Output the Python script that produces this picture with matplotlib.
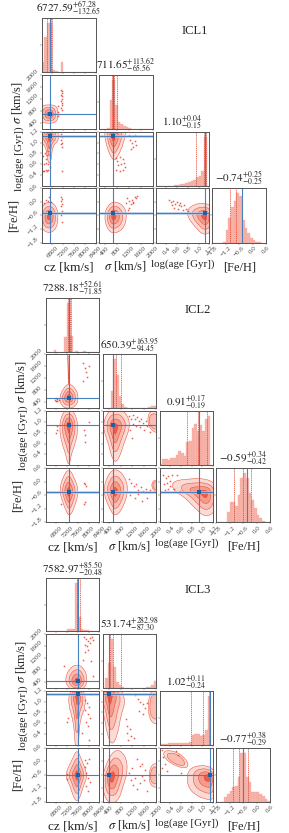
import matplotlib
matplotlib.use('Agg')
import matplotlib.pyplot as plt
from matplotlib.patches import PathPatch
from matplotlib.path import Path

plt.rcParams['font.family'] = ['Liberation Serif', 'DejaVu Serif']
plt.rcParams['mathtext.fontset'] = 'stix'

W, H = 289, 833
RED = '#e8402e'
BLUE = '#4a7fbf'
PALE_BLUE = '#b3cbe8'
LEVEL_COLORS = ['#fbd9d3', '#f9bcb0', '#f59a8a', '#ec5a45']
LEVEL_SCALES = [1, 0.72, 0.46, 0.2]

labels_x = ['cz [km/s]', r'$\sigma$ [km/s]', 'log(age [Gyr])', '[Fe/H]']
labels_y = [r'$\sigma$ [km/s]', 'log(age [Gyr])', '[Fe/H]']
limits = [(6400, 8400), (200, 2000), (0.2, 1.2), (-1.8, 0.6)]
ticks = [[6800, 7200, 7600, 8000, 8400], [400, 800, 1200, 1600, 2000],
         [0.4, 0.6, 0.8, 1.0, 1.2], [-1.8, -1.2, -0.6, 0.0, 0.6]]
tick_labels = [['6800', '7200', '7600', '8000', '8400'], ['400', '800', '1200', '1600', '2000'],
               ['0.4', '0.6', '0.8', '1.0', '1.2'], ['\u22121.8', '\u22121.2', '\u22120.6', '0.0', '0.6']]

# px layout of the panels
icl1_cols = [(41.7, 95.7), (98.7, 152.7), (155.7, 209.3), (212.3, 266)]
icl1_rows = [(18.3, 71.7), (75.3, 129), (131.7, 186), (188.3, 242.7)]
icl2_cols = [(45.7, 99.3), (102.7, 156.3), (159.7, 213), (216.3, 270)]
icl2_rows = [(297.7, 351.7), (354.3, 408.3), (411.3, 465), (468.3, 522.3)]
icl3_cols = icl2_cols
icl3_rows = [(577.7, 631.3), (634, 688), (691, 744.7), (748, 801.7)]

# truth values (blue lines)
icl1_truth = [6696, 689, 1.125, -0.48]
icl2_truth = [7257, 558, 0.944, -0.45]
icl3_truth = [7590, 424, 1.15, -0.62]

# which blue lines have a pale band round them
icl1_pale_rows = [2, 3]
icl2_pale_rows = [3]
icl3_pale_rows = [2]

# median, plus, minus from the titles
icl1_stats = [(6727.59, 67.28, 132.65), (711.65, 113.62, 65.56), (1.10, 0.04, 0.15), (-0.74, 0.25, 0.25)]
icl2_stats = [(7288.18, 52.61, 71.85), (650.39, 163.95, 94.45), (0.91, 0.17, 0.19), (-0.59, 0.34, 0.42)]
icl3_stats = [(7582.97, 85.50, 20.48), (531.74, 282.98, 87.30), (1.02, 0.11, 0.24), (-0.77, 0.38, 0.29)]

# histograms, 20 bins across each range, relative to the peak
icl1_cz_hist = [.2, .72, 1, 1, .03, .02, 0, .2, 0, 0, 0, 0, 0, 0, 0, 0, 0, 0, 0, 0]
icl1_sigma_hist = [0, 0, 0, .02, .6, 1, .5, .15, .1, .06, .04, .02, .01, .01, .01, 0, 0, 0, 0, 0]
icl1_age_hist = [0, 0, 0, 0, 0, .01, .01, .02, .03, .04, .05, .07, .08, .1, .13, .18, .2, .3, 1, 0]
icl1_feh_hist = [0, 0, 0, 0, .02, .25, .5, .72, .85, 1, .95, .45, .3, .2, .1, .05, .02, .01, 0, 0]
icl2_cz_hist = [0, 0, 0, .03, 0, 0, 0, .3, 1, .32, 0, .01, 0, 0, .01, 0, 0, 0, 0, 0]
icl2_sigma_hist = [0, 0, 0, .35, 1, .68, .25, .08, .02, .01, .01, 0, 0, .01, .01, .01, .01, .02, .04, .05]
icl2_age_hist = [.02, .12, .13, .1, .15, .15, .2, .28, .25, .18, .48, .5, .75, .85, .7, .82, .7, .95, 1, 0]
icl2_feh_hist = [0, 0, 0, 0, .2, .42, .42, .33, .55, .9, 1, .9, .6, .45, .3, .15, .08, .03, .01, 0]
icl3_cz_hist = [0, 0, 0, 0, 0, 0, 0, 0, .04, .04, .05, 1, .3, .04, .03, .03, 0, 0, 0, 0]
icl3_sigma_hist = [0, .2, .5, 1, .42, .12, .06, .02, .01, 0, 0, 0, 0, .01, .01, .01, .02, .03, .06, .14]
icl3_age_hist = [.01, .02, .02, .03, .03, .03, .03, .03, .03, .03, .03, .05, .2, .22, .22, .17, .2, .3, 1, 0]
icl3_feh_hist = [0, 0, 0, .1, .15, .22, .3, .33, .5, 1, 1, .5, .4, .2, .2, .2, .15, .12, .05, .01]

# density contours: peak and outer outline in data units
icl1_sigma_cz_peak = (6672, 703)
icl1_sigma_cz = [(6680, 1020), (6960, 980), (7020, 700), (6960, 430), (6680, 380), (6390, 430), (6330, 700), (6390, 980)]
icl1_age_cz_peak = (6672, 1.11)
icl1_age_cz = [(6400, 1.25), (7000, 1.25), (7040, 1.03), (6800, .95), (6730, .58), (6600, .68), (6560, .92), (6380, 1.0)]
icl1_feh_cz_peak = (6672, -0.65)
icl1_feh_cz = [(6680, 0.05), (6960, -0.2), (7020, -0.7), (6940, -1.2), (6680, -1.4), (6390, -1.2), (6330, -0.7), (6390, -0.2)]
icl1_age_sigma_peak = (689, 1.11)
icl1_age_sigma = [(380, 1.26), (1110, 1.26), (1060, 1.02), (790, .68), (640, .68), (420, 1.0)]
icl1_feh_sigma_peak = (689, -0.65)
icl1_feh_sigma = [(720, 0.05), (1060, -0.18), (1150, -0.7), (1010, -1.22), (680, -1.42), (470, -1.18), (380, -0.6), (490, -0.18)]
icl1_feh_age_peak = (1.12, -0.65)
icl1_feh_age = [(.78, -0.28), (1.05, 0.0), (1.28, -0.2), (1.28, -1.25), (1.1, -1.5), (.94, -1.12), (.8, -.7)]

icl2_sigma_cz_peak = (7257, 566)
icl2_sigma_cz = [(7260, 1040), (7520, 870), (7640, 550), (7520, 250), (7200, 180), (6980, 290), (6900, 560), (7060, 870)]
icl2_age_cz_peak = (7257, 0.945)
icl2_age_cz = [(7260, 1.26), (7510, 1.16), (7620, .9), (7510, .6), (7350, .4), (7300, .22), (7220, .22), (7150, .4), (7000, .6), (6900, .9), (7010, 1.16)]
icl2_feh_cz_peak = (7257, -0.44)
icl2_feh_cz = [(7260, .6), (7460, .22), (7640, -.4), (7490, -1.1), (7280, -1.6), (7090, -1.1), (6900, -.4), (7040, .22)]
icl2_age_sigma_peak = (614, 0.9)
icl2_age_sigma = [(600, 1.26), (960, 1.2), (1150, .95), (910, .6), (720, .27), (540, .27), (390, .6), (200, .9), (320, 1.16)]
icl2_feh_sigma_peak = (614, -0.44)
icl2_feh_sigma = [(620, .6), (910, .32), (1070, -.3), (910, -1.1), (620, -1.6), (390, -1.1), (210, -.4), (370, .32)]
icl2_feh_age_peak = (1.05, -0.51)
icl2_feh_age = [(.42, .02), (.75, .14), (1.1, .14), (1.3, -.2), (1.27, -1.3), (1.05, -1.6), (.84, -1.12), (.64, -.62), (.46, -.42)]

icl3_sigma_cz_peak = (7567, 422)
icl3_sigma_cz = [(7570, 1000), (7830, 860), (7970, 500), (7860, 190), (7570, 90), (7240, 190), (7110, 500), (7290, 860)]
icl3_age_cz_peak = (7567, 1.14)
icl3_age_cz = [(7600, 1.27), (7860, 1.2), (7890, .9), (7700, .7), (7640, .4), (7620, .15), (7500, .15), (7480, .4), (7400, .7), (7240, .95), (7290, 1.2)]
icl3_feh_cz_peak = (7567, -0.62)
icl3_feh_cz = [(7570, .55), (7730, .1), (7970, -.6), (7810, -1.1), (7640, -1.75), (7480, -1.75), (7310, -1.1), (7110, -.6), (7390, .1)]
icl3_age_sigma_peak = (424, 1.13)
icl3_age_sigma = [(300, 1.27), (810, 1.27), (970, 1.0), (810, .75), (710, .4), (520, .17), (340, .4), (270, .7), (130, .9), (140, 1.2)]
icl3_feh_sigma_peak = (502, -0.7)
icl3_feh_sigma = [(600, .6), (960, .32), (1050, -.4), (910, -1.0), (710, -1.85), (340, -1.85), (170, -1.1), (240, -.3)]
icl3_feh_age_peak = (1.11, -0.7)
icl3_feh_age = [(.74, -.18), (1.28, -.2), (1.28, -1.75), (.95, -1.65), (.7, -1.12)]

# detached lobes, only lighter levels
icl2_sigma_cz_lobe = [(7210, 2050), (7310, 2050), (7280, 1800), (7270, 1000), (7240, 1000), (7230, 1800)]
icl2_age_sigma_lobe = [(1750, 1.2), (2100, 1.22), (2100, .78), (1810, .85), (1700, 1.0)]
icl2_feh_sigma_lobe = [(1850, 0.05), (2100, .1), (2100, -.5), (1850, -.35)]
icl3_age_sigma_lobe = [(1800, 1.22), (2120, 1.22), (2120, .56), (1800, .62), (1710, .9)]
icl3_feh_sigma_lobe = [(1850, -.1), (2100, -.1), (2100, -1.2), (1800, -1.1), (1740, -.6)]
icl3_feh_age_lobe = [(.27, .52), (.55, .42), (.74, -.03), (.72, -.32), (.5, -.22), (.28, .14)]

# stray samples outside the contours
icl1_sigma_cz_dots = [(7110, 1510), (7140, 1470), (7170, 1420), (7110, 1350), (7170, 1300), (7140, 1220), (7110, 1150), (7170, 1080), (7140, 1000), (7110, 920), (7170, 850), (7000, 980), (7020, 760), (6990, 650)]
icl1_age_cz_dots = [(6450, .48), (6500, .48), (6560, .5), (6600, .47), (6650, .5), (6480, .6), (6550, .62), (6620, .6), (6700, .55), (6460, .75), (6520, .8), (6600, .78), (6650, .85), (6560, .7), (7130, 1.15), (7170, 1.1), (7130, 1.05), (7170, 1.0), (7130, .97), (7170, .92), (7150, .48)]
icl1_feh_cz_dots = [(7120, .22), (7160, .12), (7130, .02), (7170, -.08), (7120, -.2), (7160, -.4), (7130, -.6), (7170, -.9), (6560, .08), (6620, .02), (6680, .2), (6740, .0), (6490, -.05)]
icl1_age_sigma_dots = [(1200, 1.14), (1300, 1.13), (1420, 1.14), (1240, 1.05), (1320, 1.0), (1400, 1.02), (1330, .92), (1260, .88), (1450, .95), (760, .72), (820, .66), (900, .74), (1000, .7), (850, .58), (930, .6), (1050, .62), (780, .5), (900, .47), (1000, .5), (1080, .55)]
icl1_feh_sigma_dots = [(1140, .15), (1200, .05), (1260, -.1), (1300, .1), (1350, .0), (1400, .2), (1450, .18), (1480, .25), (1220, -.25), (1160, -.35), (1330, -.05), (1100, -.05)]
icl1_feh_age_dots = [(.44, .08), (.48, -.02), (.52, .05), (.56, -.1), (.6, -.02), (.64, -.15), (.68, -.2), (.72, -.12), (.55, -.25), (.62, -.32), (.7, -.36), (.76, -.3), (.8, -.4), (.84, -.5), (.5, -.12), (.66, -.05)]

icl2_sigma_cz_dots = [(6760, 480), (6800, 460), (6840, 500), (6880, 470), (6780, 530), (6820, 430), (7800, 1700), (7850, 1550), (7900, 1400), (7780, 1100), (7950, 1260), (8020, 1600)]
icl2_age_cz_dots = [(6810, .92), (6830, .86), (6800, .8), (7830, .85), (7880, .75), (7850, .62), (8000, 1.0)]
icl2_feh_cz_dots = [(7860, -.1), (7900, -.2), (7820, -.05), (7830, -1.0), (7880, -.9), (6980, -1.0)]
icl2_age_sigma_dots = [(1070, 1.12), (1150, 1.05), (1210, 1.13), (1280, 1.06), (1350, 1.1), (1420, 1.02), (1500, 1.06), (1560, .98), (1640, 1.02), (1700, .92), (1220, .96), (1330, .92), (1460, .9), (1600, .85), (1100, .85), (1800, .82), (1180, .7)]
icl2_feh_sigma_dots = [(1070, .14), (1150, -.05), (1240, -.2), (1330, -.1), (1400, -.35), (1480, -.25), (1560, -.4), (1640, -.3), (1720, -.45), (1790, -.35), (1120, -.6), (1270, -.7), (1400, -.55), (1520, -.85), (1680, -.7)]
icl2_feh_age_dots = [(.27, .3), (.31, .15), (.35, .25), (.39, .05), (.28, -.1), (.34, -.05), (.4, -.2), (.44, .3), (.47, -.3), (.52, .32), (.58, -.4), (.3, -.35), (.36, -.3)]

icl3_sigma_cz_dots = [(7830, 1900), (7900, 1850), (7960, 1780), (8040, 1880), (8120, 1900), (7860, 1650), (7950, 1600), (8060, 1700), (8180, 1800), (7880, 1400), (7980, 1470), (7790, 1150), (7100, 950), (8080, 1100), (8180, 600)]
icl3_age_cz_dots = [(7870, 1.04), (7940, .98), (8010, .9), (7880, .85), (7960, .78), (8040, .7), (7900, .62), (7990, .55), (7180, .62), (7220, .7), (8000, .28), (8100, 1.14), (7760, .42)]
icl3_feh_cz_dots = [(7870, -.25), (7950, -.05), (8030, .1), (7890, -.5), (7970, -.75), (8060, -.9), (7900, -1.1), (7980, -1.3), (7180, -.55), (7210, -.8), (7880, .05)]
icl3_age_sigma_dots = [(1280, 1.12), (1380, 1.06), (1460, 1.0), (1550, .96), (1620, .88), (1680, .98), (1420, .82), (1540, .78), (1020, .55), (1100, .5), (1000, .42), (1150, .36), (1250, .32), (1060, .28), (980, .68)]
icl3_feh_sigma_dots = [(1080, -.5), (1140, -.85), (1230, -1.05), (1280, -.72), (1360, -1.25), (1440, -.95), (1520, -.65), (1600, -.82), (1440, -.2), (1520, -.1), (1620, -.4), (1200, -.3), (1680, -1.3), (1340, .1)]
icl3_feh_age_dots = [(.24, .5), (.27, .2), (.3, -.1), (.24, -.3), (.33, -.45), (.5, .45), (.6, -.5), (.55, .3)]

icl1_panels = {
    (1, 0): (icl1_sigma_cz_peak, icl1_sigma_cz, None, icl1_sigma_cz_dots),
    (2, 0): (icl1_age_cz_peak, icl1_age_cz, None, icl1_age_cz_dots),
    (3, 0): (icl1_feh_cz_peak, icl1_feh_cz, None, icl1_feh_cz_dots),
    (2, 1): (icl1_age_sigma_peak, icl1_age_sigma, None, icl1_age_sigma_dots),
    (3, 1): (icl1_feh_sigma_peak, icl1_feh_sigma, None, icl1_feh_sigma_dots),
    (3, 2): (icl1_feh_age_peak, icl1_feh_age, None, icl1_feh_age_dots),
}
icl2_panels = {
    (1, 0): (icl2_sigma_cz_peak, icl2_sigma_cz, icl2_sigma_cz_lobe, icl2_sigma_cz_dots),
    (2, 0): (icl2_age_cz_peak, icl2_age_cz, None, icl2_age_cz_dots),
    (3, 0): (icl2_feh_cz_peak, icl2_feh_cz, None, icl2_feh_cz_dots),
    (2, 1): (icl2_age_sigma_peak, icl2_age_sigma, icl2_age_sigma_lobe, icl2_age_sigma_dots),
    (3, 1): (icl2_feh_sigma_peak, icl2_feh_sigma, icl2_feh_sigma_lobe, icl2_feh_sigma_dots),
    (3, 2): (icl2_feh_age_peak, icl2_feh_age, None, icl2_feh_age_dots),
}
icl3_panels = {
    (1, 0): (icl3_sigma_cz_peak, icl3_sigma_cz, None, icl3_sigma_cz_dots),
    (2, 0): (icl3_age_cz_peak, icl3_age_cz, None, icl3_age_cz_dots),
    (3, 0): (icl3_feh_cz_peak, icl3_feh_cz, None, icl3_feh_cz_dots),
    (2, 1): (icl3_age_sigma_peak, icl3_age_sigma, icl3_age_sigma_lobe, icl3_age_sigma_dots),
    (3, 1): (icl3_feh_sigma_peak, icl3_feh_sigma, icl3_feh_sigma_lobe, icl3_feh_sigma_dots),
    (3, 2): (icl3_feh_age_peak, icl3_feh_age, icl3_feh_age_lobe, icl3_feh_age_dots),
}

fig = plt.figure(figsize=(W / 100, H / 100), dpi=100)


def px_axes(col, row):
    return fig.add_axes([col[0] / W, 1 - row[1] / H, (col[1] - col[0]) / W, (row[1] - row[0]) / H])


def smooth_path(pts):
    # closed quadratic curve through the edge midpoints
    n = len(pts)
    mid = [((pts[i][0] + pts[(i + 1) % n][0]) / 2, (pts[i][1] + pts[(i + 1) % n][1]) / 2) for i in range(n)]
    verts = [mid[-1]]
    codes = [Path.MOVETO]
    for i in range(n):
        verts += [pts[i], mid[i]]
        codes += [Path.CURVE3, Path.CURVE3]
    return Path(verts, codes)


def draw_blob(ax, peak, outline, scales):
    for scale, color in zip(scales, LEVEL_COLORS):
        pts = [(peak[0] + (x - peak[0]) * scale, peak[1] + (y - peak[1]) * scale) for x, y in outline]
        ax.add_patch(PathPatch(smooth_path(pts), facecolor=color, edgecolor=RED, lw=0.35, alpha=0.95))


def style_ticks(ax, c, r, last_row, first_col):
    ax.set_xlim(limits[c])
    ax.set_xticks(ticks[c])
    if last_row:
        ax.set_xticklabels(tick_labels[c], rotation=45, fontsize=5, color='#333333')
    else:
        ax.set_xticklabels([])
    if r != c:
        ax.set_ylim(limits[r])
        ax.set_yticks(ticks[r])
        if first_col:
            ax.set_yticklabels(tick_labels[r], rotation=45, fontsize=5, color='#333333', va='center')
        else:
            ax.set_yticklabels([])
    ax.tick_params(length=1.2, width=0.3, pad=0.8, colors='#444444')
    for s in ax.spines.values():
        s.set_linewidth(0.7)
        s.set_color('#555555')


def corner(cols, rows, truth, stats, hists, panels, pale_rows, name):
    for i in range(4):
        ax = px_axes(cols[i], rows[i])
        lo, hi = limits[i]
        w = (hi - lo) / 20
        centers = [lo + w * (k + 0.5) for k in range(20)]
        ax.bar(centers, hists[i], width=w, color='#f7b3a8', edgecolor='#f4a294', lw=0.2)
        med, up, dn = stats[i]
        for v in (med - dn, med, med + up):
            ax.axvline(v, color=RED, lw=0.5, ls=(0, (2, 1)))
        ax.axvline(truth[i], color=BLUE, lw=0.8)
        ax.set_ylim(0, 1.1)
        style_ticks(ax, i, i, i == 3, False)
        ax.set_yticks([0.55])
        ax.set_yticklabels([])
        ax.set_title('$%.2f^{+%.2f}_{-%.2f}$' % (med, up, dn), fontsize=8, pad=1.6, color='#222222')
    for (r, c), (peak, outline, lobe, dots) in panels.items():
        ax = px_axes(cols[c], rows[r])
        dx, dy = zip(*dots)
        ax.plot(dx, dy, ls='none', marker='s', ms=1.1, mew=0, color=RED, alpha=0.85)
        draw_blob(ax, peak, outline, LEVEL_SCALES)
        if lobe:
            cx = sum(p[0] for p in lobe) / len(lobe)
            cy = sum(p[1] for p in lobe) / len(lobe)
            draw_blob(ax, (cx, cy), lobe, LEVEL_SCALES[:2])
        if r in pale_rows:
            ax.axhline(truth[r], color=PALE_BLUE, lw=2, alpha=0.8)
        ax.axvline(truth[c], color=BLUE, lw=0.8)
        ax.axhline(truth[r], color=BLUE, lw=0.8)
        ax.plot(truth[c], truth[r], ls='none', marker='s', ms=2.2, mew=0, color='#1f5fa8')
        style_ticks(ax, c, r, r == 3, c == 0)
    # axis names, each with its own size to get the widths of the reference
    bottom = rows[3][1]
    drop = [25, 23.5, 21, 24.5]
    sizes_x = [9.5, 9, 7.8, 9]
    for i, t in enumerate(labels_x):
        fig.text((cols[i][0] + cols[i][1]) / 2 / W, 1 - (bottom + drop[i]) / H, t, fontsize=sizes_x[i],
                 ha='center', va='center', color='#222222')
    left = cols[0][0]
    shift = [25, 23, 28]
    sizes_y = [9, 8, 9]
    for i, t in enumerate(labels_y):
        fig.text((left - shift[i]) / W, 1 - (rows[i + 1][0] + rows[i + 1][1]) / 2 / H, t, fontsize=sizes_y[i],
                 rotation=90, ha='center', va='center', color='#222222')
    fig.text((cols[2][1] - 15) / W, 1 - (rows[0][0] + 12.5) / H, name, fontsize=9,
             ha='center', va='center', color='#222222')


corner(icl1_cols, icl1_rows, icl1_truth, icl1_stats,
       [icl1_cz_hist, icl1_sigma_hist, icl1_age_hist, icl1_feh_hist], icl1_panels, icl1_pale_rows, 'ICL1')
corner(icl2_cols, icl2_rows, icl2_truth, icl2_stats,
       [icl2_cz_hist, icl2_sigma_hist, icl2_age_hist, icl2_feh_hist], icl2_panels, icl2_pale_rows, 'ICL2')
corner(icl3_cols, icl3_rows, icl3_truth, icl3_stats,
       [icl3_cz_hist, icl3_sigma_hist, icl3_age_hist, icl3_feh_hist], icl3_panels, icl3_pale_rows, 'ICL3')

fig.savefig('out.png', dpi=100)
